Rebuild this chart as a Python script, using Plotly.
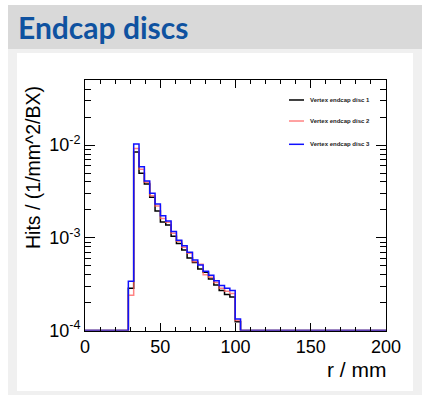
import plotly.graph_objects as go

W, H = 422, 395

# ---- data ----
bin_edges = [28.8, 32.35, 35.9, 39.45, 43.0, 46.55, 50.1, 53.65, 57.2, 60.75, 64.3,
             67.85, 71.4, 74.95, 78.5, 82.05, 85.6, 89.15, 92.7, 96.25, 99.8, 103.35]
disc1 = [2.85e-4, 8.4e-3, 4.97e-3, 3.8e-3, 2.73e-3, 1.95e-3, 1.48e-3, 1.37e-3, 1.04e-3, 8.7e-4,
         7.4e-4, 6.05e-4, 5.4e-4, 4.6e-4, 4.25e-4, 3.6e-4, 3.1e-4, 2.7e-4, 2.45e-4, 2.3e-4, 1.24e-4]
disc2 = [2.4e-4, 9.2e-3, 5.5e-3, 3.97e-3, 2.84e-3, 2.2e-3, 1.62e-3, 1.47e-3, 1.12e-3, 9.2e-4,
         7.9e-4, 6.8e-4, 5.5e-4, 5.2e-4, 4.0e-4, 3.75e-4, 3.3e-4, 2.85e-4, 2.65e-4, 2.5e-4, 1.28e-4]
disc3 = [3.4e-4, 1.03e-2, 5.85e-3, 4.1e-3, 3.02e-3, 2.32e-3, 1.73e-3, 1.52e-3, 1.17e-3, 9.4e-4,
         8.2e-4, 6.97e-4, 5.76e-4, 5.1e-4, 4.35e-4, 3.95e-4, 3.45e-4, 3.05e-4, 2.85e-4, 2.7e-4, 1.33e-4]
series_names = ["Vertex endcap disc 1", "Vertex endcap disc 2", "Vertex endcap disc 3"]
x_range = [0, 200]
y_min, y_max = 1e-4, 5e-2   # empty bins are drawn on the axis floor
x_ticks = [0, 50, 100, 150, 200]
y_ticks = [1e-4, 1e-3, 1e-2]
y_ticklabels = ["10<sup>-4</sup>", "10<sup>-3</sup>", "10<sup>-2</sup>"]

colors = ["#000000", "rgba(255,90,90,0.75)", "#1010ff"]


def px(x):
    return x / W


def py(y):
    return 1 - y / H


fig = go.Figure()
for name, vals, col in zip(series_names, [disc1, disc2, disc3], colors):
    xs = [x_range[0]] + bin_edges + [x_range[1]]
    ys = [y_min] + vals + [y_min, y_min]
    fig.add_trace(go.Scatter(x=xs, y=ys, mode="lines", line=dict(shape="hv", color=col, width=1.5),
                             name=name, showlegend=False, cliponaxis=True))

# background decoration
shapes = [
    dict(type="rect", xref="paper", yref="paper", x0=px(8), x1=1, y0=0, y1=py(49),
         fillcolor="#f0f0f0", line=dict(width=0), layer="below"),
    dict(type="rect", xref="paper", yref="paper", x0=px(8), x1=1, y0=py(49), y1=py(5),
         fillcolor="#d9d9d9", line=dict(width=0), layer="below"),
    dict(type="rect", xref="paper", yref="paper", x0=px(17), x1=px(413), y0=py(391), y1=py(53),
         fillcolor="#ffffff", line=dict(width=0), layer="below"),
]

annotations = [
    dict(text="Endcap discs", xref="paper", yref="paper", x=px(16), y=py(27), xanchor="left",
         yanchor="middle", showarrow=False,
         font=dict(family="Lato", size=30, color="#0f52a0", weight="bold")),
    dict(text="Hits / (1/mm^2/BX)", xref="paper", yref="paper", x=px(33), y=py(168),
         xanchor="center", yanchor="middle", textangle=-90, showarrow=False,
         font=dict(family="Liberation Sans", size=19.5, color="#000000")),
    dict(text="r / mm", xref="paper", yref="paper", x=px(388), y=py(369),
         xanchor="right", yanchor="middle", showarrow=False,
         font=dict(family="Liberation Sans", size=21, color="#000000")),
]

# manual legend
leg_y = [0.9213, 0.8373, 0.7442]
for name, col, yy in zip(series_names, colors, leg_y):
    shapes.append(dict(type="line", xref="x domain", yref="y domain", x0=0.6777, x1=0.7276,
                       y0=yy, y1=yy, line=dict(color=col, width=1.5)))
    annotations.append(dict(text="<b>" + name + "</b>", xref="x domain", yref="y domain",
                            x=0.7409, y=yy, xanchor="left", yanchor="middle", showarrow=False,
                            font=dict(family="Liberation Sans", size=6, color="#222222")))

fig.update_layout(
    width=W, height=H, margin=dict(l=0, r=0, t=0, b=0),
    paper_bgcolor="#ffffff", plot_bgcolor="#ffffff",
    shapes=shapes, annotations=annotations, showlegend=False,
    xaxis=dict(domain=[px(85), px(386)], range=x_range, tickvals=x_ticks, automargin=False,
               ticktext=[str(t) for t in x_ticks], ticks="inside", ticklen=8,
               tickcolor="#000", showline=True, linecolor="#000", linewidth=1,
               mirror="allticks", showgrid=False, zeroline=False,
               tickfont=dict(family="Liberation Sans", size=18, color="#000"),
               minor=dict(ticks="inside", ticklen=4, dtick=10, tickcolor="#000", showgrid=False)),
    yaxis=dict(domain=[py(330.5), py(80.3)], type="log", range=[-4, -1.30103],
               tickvals=y_ticks, ticktext=y_ticklabels, automargin=False,
               ticks="inside", ticklen=10, tickcolor="#000",
               showline=True, linecolor="#000", linewidth=1, mirror="allticks",
               showgrid=False, zeroline=False,
               tickfont=dict(family="Liberation Sans", size=18, color="#000"),
               minor=dict(ticks="inside", ticklen=6, dtick="D1", tickcolor="#000", showgrid=False)),
)

fig.write_html("out.html")
